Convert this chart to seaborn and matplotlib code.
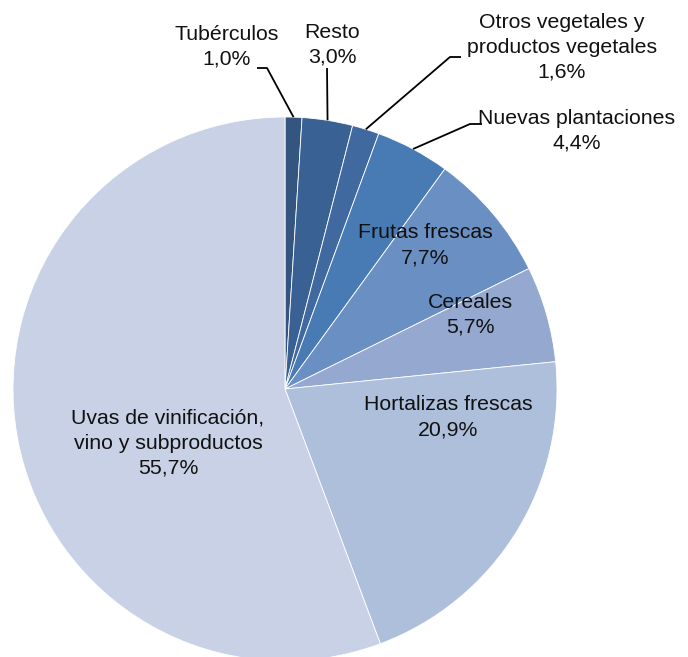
import numpy as np
import matplotlib.pyplot as plt
import seaborn as sns

# data (clockwise from 12 o'clock)
categories = ['Tubérculos', 'Resto', 'Otros vegetales y\nproductos vegetales', 'Nuevas plantaciones',
              'Frutas frescas', 'Cereales', 'Hortalizas frescas',
              'Uvas de vinificación,\nvino y subproductos']
shares = [1.0, 3.0, 1.6, 4.4, 7.7, 5.7, 20.9, 55.7]
colors = ['#34557f', '#3a6193', '#4069a0', '#487bb4', '#6a8fc3', '#94a8d0', '#aebfdc', '#c8d1e5']

sns.set_theme(style='white')
plt.rcParams['font.family'] = ['Liberation Sans', 'DejaVu Sans']

W, H = 688, 657
fig = plt.figure(figsize=(W / 100, H / 100), dpi=100)
cx, cy, r = 285, 389, 272
ax = fig.add_axes([(cx - r) / W, (H - cy - r) / H, 2 * r / W, 2 * r / H])

wedges, _ = ax.pie(shares, colors=colors, startangle=90, counterclock=False, radius=1,
                   wedgeprops=dict(edgecolor='white', linewidth=0.6))
ax.set_xlim(-1, 1)
ax.set_ylim(-1, 1)
ax.axis('off')
for w in wedges:
    w.set_clip_on(False)


def px(x, y):
    # pixel position in the picture -> data coords
    return (x - cx) / r, (cy - y) / r


fs = 15.3
step = 25  # px between lines


def put_label(i, x, y):
    lines = f"{categories[i]}\n{shares[i]:.1f}%".replace('.', ',').split('\n')
    n = len(lines)
    for k, line in enumerate(lines):
        yy = y + (k - (n - 1) / 2) * step + 6  # baseline
        tx, ty = px(x, yy)
        ax.text(tx, ty, line, ha='center', va='baseline', fontsize=fs, color='#111111')


# labels inside the pie: (index, pixel centre of text block)
inside = {4: (425, 245), 5: (470, 314), 6: (448, 417), 7: (168, 443)}
for i, (x, y) in inside.items():
    put_label(i, x, y)

# labels outside with leader lines: (index, text centre, elbow, line end)
outside = {
    0: ((227, 46), (267, 68), (257, 68)),
    1: ((332, 44), (327, 68), (327, 68)),
    2: ((562, 47), (450, 57), (461, 57)),
    3: ((577, 130), (470, 124), (482, 124)),
}
for i, (tpos, elbow, end) in outside.items():
    w = wedges[i]
    mid = np.deg2rad((w.theta1 + w.theta2) / 2)
    sx, sy = np.cos(mid), np.sin(mid)
    ex, ey = px(*elbow)
    nx, ny = px(*end)
    ax.plot([sx, ex, nx], [sy, ey, ny], color='black', lw=1.3, clip_on=False,
            solid_capstyle='butt')
    put_label(i, *tpos)

fig.savefig('out.png', dpi=100)
